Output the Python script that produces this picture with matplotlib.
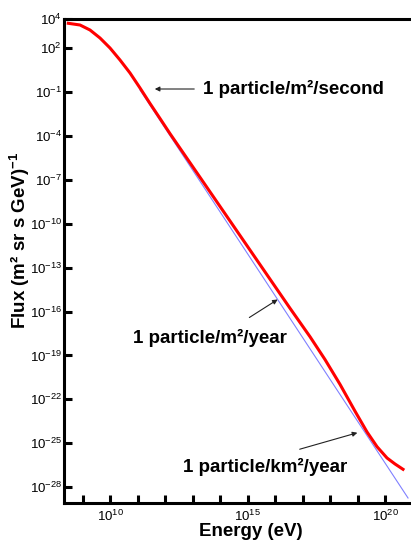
import numpy as np
import matplotlib
matplotlib.use('Agg')
import matplotlib.pyplot as plt

plt.rcParams['font.family'] = ['Liberation Sans', 'DejaVu Sans']
plt.rcParams['mathtext.fontset'] = 'custom'
plt.rcParams['mathtext.rm'] = 'Liberation Sans'
plt.rcParams['mathtext.bf'] = 'Liberation Sans:bold'

# measured spectrum (log10 energy in eV, log10 flux)
red_logE = [8.466, 8.892, 9.256, 9.620, 9.984, 10.348, 10.712, 11.076, 11.440, 11.803,
            12.167, 13.259, 14.351, 15.443, 16.535, 17.262, 17.808, 18.354, 18.900,
            19.336, 19.700, 20.064, 20.355, 20.646]
red_logF = [3.706, 3.590, 3.248, 2.701, 2.017, 1.197, 0.308, -0.717, -1.777, -2.802,
            -3.839, -6.824, -9.809, -12.794, -15.779, -17.723, -19.284, -20.981, -22.816,
            -24.235, -25.241, -26.013, -26.423, -26.786]

# reference power law
blue_logE = [11.076, 20.828]
blue_logF = [-0.854, -28.748]

ytick_exp = [4, 2, -1, -4, -7, -10, -13, -16, -19, -22, -25, -28]
xtick_exp = list(range(9, 21))
xlabel_exp = [10, 15, 20]

fig = plt.figure(figsize=(4.11, 5.46), dpi=100)
ax = fig.add_axes([64 / 411, 1 - 503 / 546, (410 - 64) / 411, (503 - 19) / 546])

ax.plot(10.0 ** np.array(blue_logE), 10.0 ** np.array(blue_logF), color='#8080ff', lw=0.8)
ax.plot(10.0 ** np.array(red_logE), 10.0 ** np.array(red_logF), color='red', lw=2.2)

ax.set_xscale('log')
ax.set_yscale('log')
ax.set_xlim(10 ** 8.31, 10 ** 20.9)
ax.set_ylim(10 ** -29.09, 1e4)

ax.set_yticks([10.0 ** e for e in ytick_exp])
ax.set_yticklabels([r'$\mathregular{10^{%d}}$' % e for e in ytick_exp], fontsize=9.5)
ax.set_xticks([10.0 ** e for e in xtick_exp])
ax.set_xticklabels([r'$\mathregular{10^{%d}}$' % e if e in xlabel_exp else '' for e in xtick_exp],
                   fontsize=9.5)
ax.minorticks_off()
ax.tick_params(direction='in', length=6, width=2.2)
ax.tick_params(axis='y', pad=1.5)
ax.tick_params(axis='x', pad=4)

for s in ['left', 'bottom', 'top']:
    ax.spines[s].set_linewidth(2.2)
ax.spines['right'].set_visible(False)

ax.set_xlabel('Energy (eV)', fontsize=13.5, fontweight='bold')
ax.set_ylabel(r'Flux (m² sr s GeV)$^{\mathbf{-1}}$', fontsize=13.5, fontweight='bold')
ax.xaxis.set_label_coords(0.54, -0.042)
ax.yaxis.set_label_coords(-0.093, 0.543)

arrow = dict(arrowstyle='-|>', color='#222222', lw=0.8, mutation_scale=7)
ax.annotate('', xy=(10 ** 11.512, 10 ** -0.786), xytext=(10 ** 13.15, 10 ** -0.786), arrowprops=arrow)
ax.text(10 ** 13.368, 10 ** -0.786, '1 particle/m²/second', fontsize=13.5,
        fontweight='bold', va='center', ha='left')
ax.annotate('', xy=(10 ** 16.17, 10 ** -15.074), xytext=(10 ** 14.969, 10 ** -16.51), arrowprops=arrow)
ax.text(10 ** 10.821, 10 ** -17.81, '1 particle/m²/year', fontsize=13.5,
        fontweight='bold', va='center', ha='left')
ax.annotate('', xy=(10 ** 19.082, 10 ** -24.236), xytext=(10 ** 16.789, 10 ** -25.466), arrowprops=arrow)
ax.text(10 ** 12.64, 10 ** -26.63, '1 particle/km²/year', fontsize=13.5,
        fontweight='bold', va='center', ha='left')

fig.savefig('out.png', dpi=100)
